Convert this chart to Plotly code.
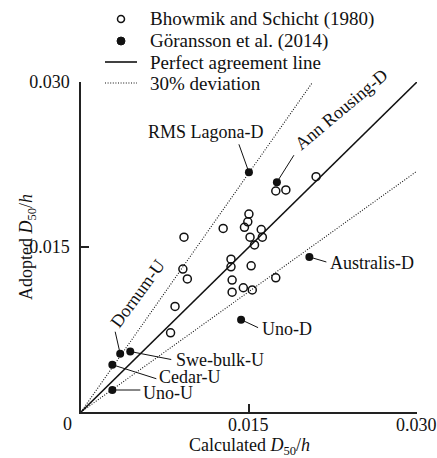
import plotly.graph_objects as go

# ---------------- data ----------------
axis_max = 0.030
tick_vals = [0.015, 0.030]
tick_text = ["0.015", "0.030"]

series_names = ["Bhowmik and Schicht (1980)", "Göransson et al. (2014)",
                "Perfect agreement line", "30% deviation"]

bhowmik_x = [0.0210, 0.0174, 0.0183, 0.0150, 0.0149, 0.0146, 0.0127, 0.0161,
             0.0151, 0.0162, 0.0155, 0.0134, 0.0134, 0.0152, 0.0135, 0.0135,
             0.0145, 0.0153, 0.0174, 0.0092, 0.0091, 0.0095, 0.0084, 0.0080]
bhowmik_y = [0.0214, 0.0201, 0.0202, 0.0180, 0.0173, 0.0168, 0.0167, 0.0166,
             0.0159, 0.0159, 0.0152, 0.0139, 0.0132, 0.0133, 0.0120, 0.0109,
             0.0113, 0.0111, 0.0122, 0.0159, 0.0130, 0.0121, 0.0096, 0.0072]

gor_names = ["RMS Lagona-D", "Ann Rousing-D", "Australis-D", "Uno-D",
             "Dornum-U", "Swe-bulk-U", "Cedar-U", "Uno-U"]
gor_x = [0.0150, 0.0175, 0.0204, 0.0143, 0.0035, 0.0044, 0.0028, 0.0028]
gor_y = [0.0218, 0.0209, 0.0141, 0.0084, 0.0053, 0.0055, 0.0043, 0.0020]

# deviation lines as drawn in the picture
upper_factor = 1.45
lower_factor = 0.73

# ---------------- styling ----------------
FONT = "Liberation Serif, Times New Roman, serif"
INK = "#111111"
W, H = 437, 458
ML, MR, MT, MB = 81, 20, 82, 46
PW, PH = W - ML - MR, H - MT - MB
DOT = "1px,1.6px"


def px_x(px):
    return (px - ML) / PW


def px_y(py):
    return (H - MB - py) / PH


# label placement (pixels relative to the point): leader end (ax, ay; ay down),
# text shift (xs, ys; ys up), anchor, angle
label_style = {
    "RMS Lagona-D":  dict(ax=-10, ay=-28, xs=17, ys=40, xanchor="right", angle=0),
    "Ann Rousing-D": dict(ax=17, ay=-27, xs=65, ys=73, xanchor="center", angle=-40),
    "Australis-D":   dict(ax=17, ay=5, xs=19, ys=-6, xanchor="left", angle=0),
    "Uno-D":         dict(ax=17, ay=8, xs=19, ys=-9, xanchor="left", angle=0),
    "Dornum-U":      dict(ax=-5, ay=-22, xs=17, ys=60, xanchor="center", angle=-54),
    "Swe-bulk-U":    dict(ax=41, ay=8, xs=44, ys=-8, xanchor="left", angle=0),
    "Cedar-U":       dict(ax=44, ay=14, xs=45, ys=-12, xanchor="left", angle=0),
    "Uno-U":         dict(ax=28, ay=0, xs=29, ys=-3, xanchor="left", angle=0),
}
STANDOFF = 3

fig = go.Figure()

# reference lines
fig.add_trace(go.Scatter(
    x=[0, axis_max], y=[0, axis_max], mode="lines", name=series_names[2],
    line=dict(color=INK, width=1.6), showlegend=False, hoverinfo="skip"))
fig.add_trace(go.Scatter(
    x=[0, axis_max / upper_factor], y=[0, axis_max], mode="lines",
    name=series_names[3], showlegend=False,
    line=dict(color=INK, width=1.1, dash=DOT), hoverinfo="skip"))
fig.add_trace(go.Scatter(
    x=[0, axis_max], y=[0, axis_max * lower_factor], mode="lines",
    name=series_names[3], showlegend=False,
    line=dict(color=INK, width=1.1, dash=DOT), hoverinfo="skip"))

# data
fig.add_trace(go.Scatter(
    x=bhowmik_x, y=bhowmik_y, mode="markers", name=series_names[0],
    marker=dict(symbol="circle-open", size=8, color=INK, line=dict(width=1.5)),
    showlegend=False))
fig.add_trace(go.Scatter(
    x=gor_x, y=gor_y, mode="markers", name=series_names[1],
    marker=dict(symbol="circle", size=8, color=INK), showlegend=False))

annotations = []
shapes = []
for name, x, y in zip(gor_names, gor_x, gor_y):
    s = label_style[name]
    dx, dy = s["ax"], -s["ay"]
    length = (dx * dx + dy * dy) ** 0.5
    sx, sy = dx / length * STANDOFF, dy / length * STANDOFF
    # leader line
    shapes.append(dict(
        type="line", xref="x", yref="y", xsizemode="pixel", ysizemode="pixel",
        xanchor=x, yanchor=y, x0=sx, y0=sy, x1=dx, y1=dy,
        line=dict(color=INK, width=1)))
    # label text
    annotations.append(dict(
        x=x, y=y, xref="x", yref="y", text=name, showarrow=False,
        xshift=s["xs"], yshift=s["ys"], xanchor=s["xanchor"], yanchor="middle",
        textangle=s["angle"], font=dict(family=FONT, size=18, color=INK)))

# hand-built legend (reference stacks the rows tightly)
legend_rows = [19, 41, 62, 83]
legend_sample = (105, 137)
legend_text_x = 148
mx = (legend_sample[0] + legend_sample[1]) / 2
# open circle
shapes.append(dict(type="circle", xref="paper", yref="paper",
                   xsizemode="pixel", ysizemode="pixel",
                   xanchor=px_x(mx), yanchor=px_y(legend_rows[0]),
                   x0=-3.5, x1=3.5, y0=-3.5, y1=3.5,
                   line=dict(color=INK, width=1.5), fillcolor="white"))
# filled circle
shapes.append(dict(type="circle", xref="paper", yref="paper",
                   xsizemode="pixel", ysizemode="pixel",
                   xanchor=px_x(mx), yanchor=px_y(legend_rows[1]),
                   x0=-4, x1=4, y0=-4, y1=4,
                   line=dict(color=INK, width=1), fillcolor=INK))
# solid and dotted samples
shapes.append(dict(type="line", xref="paper", yref="paper",
                   x0=px_x(legend_sample[0]), x1=px_x(legend_sample[1]),
                   y0=px_y(legend_rows[2]), y1=px_y(legend_rows[2]),
                   line=dict(color=INK, width=1.6)))
shapes.append(dict(type="line", xref="paper", yref="paper",
                   x0=px_x(legend_sample[0]), x1=px_x(legend_sample[1]),
                   y0=px_y(legend_rows[3]), y1=px_y(legend_rows[3]),
                   line=dict(color=INK, width=1.1, dash=DOT)))
for name, row in zip(series_names, legend_rows):
    annotations.append(dict(x=px_x(legend_text_x), y=px_y(row), xref="paper",
                            yref="paper", text=name, showarrow=False,
                            xanchor="left", yanchor="middle",
                            font=dict(family=FONT, size=19, color=INK)))

# x tick labels (placed just under the axis as in the reference)
for tv, tt in zip(tick_vals, tick_text):
    annotations.append(dict(x=tv, y=0, xref="x", yref="paper", text=tt,
                            showarrow=False, yshift=-13, yanchor="middle",
                            font=dict(family=FONT, size=18, color=INK)))

# origin label and axis titles
annotations.append(dict(x=0, y=0, xref="x", yref="y", text="0", showarrow=False,
                        xshift=-14, yshift=-12, font=dict(family=FONT, size=18, color=INK)))
annotations.append(dict(x=0.5, y=0, xref="paper", yref="paper",
                        text="Calculated <i>D</i><sub>50</sub>/<i>h</i>",
                        showarrow=False, yshift=-34, yanchor="middle",
                        font=dict(family=FONT, size=18, color=INK)))
annotations.append(dict(x=0, y=0.5, xref="paper", yref="paper",
                        text="Adopted <i>D</i><sub>50</sub>/<i>h</i>",
                        showarrow=False, xshift=-54, textangle=-90, xanchor="center",
                        font=dict(family=FONT, size=18, color=INK)))

axis_common = dict(
    range=[0, axis_max * 1.0005], tickvals=tick_vals, ticktext=tick_text,
    ticks="inside", ticklen=8, tickwidth=1.5, tickcolor="#222",
    showline=True, linewidth=1.5, linecolor="#222",
    showgrid=False, zeroline=False, mirror=False,
    ticklabeloverflow="allow",
    tickfont=dict(family=FONT, size=18, color=INK),
)

fig.update_layout(
    width=W, height=H,
    margin=dict(l=ML, r=MR, t=MT, b=MB, autoexpand=False),
    paper_bgcolor="white", plot_bgcolor="white",
    font=dict(family=FONT, size=18, color=INK),
    xaxis=dict(**axis_common, showticklabels=False),
    yaxis=dict(**axis_common, ticklabelstandoff=6),
    showlegend=False,
    annotations=annotations,
    shapes=shapes,
)

fig.write_html("out.html")
